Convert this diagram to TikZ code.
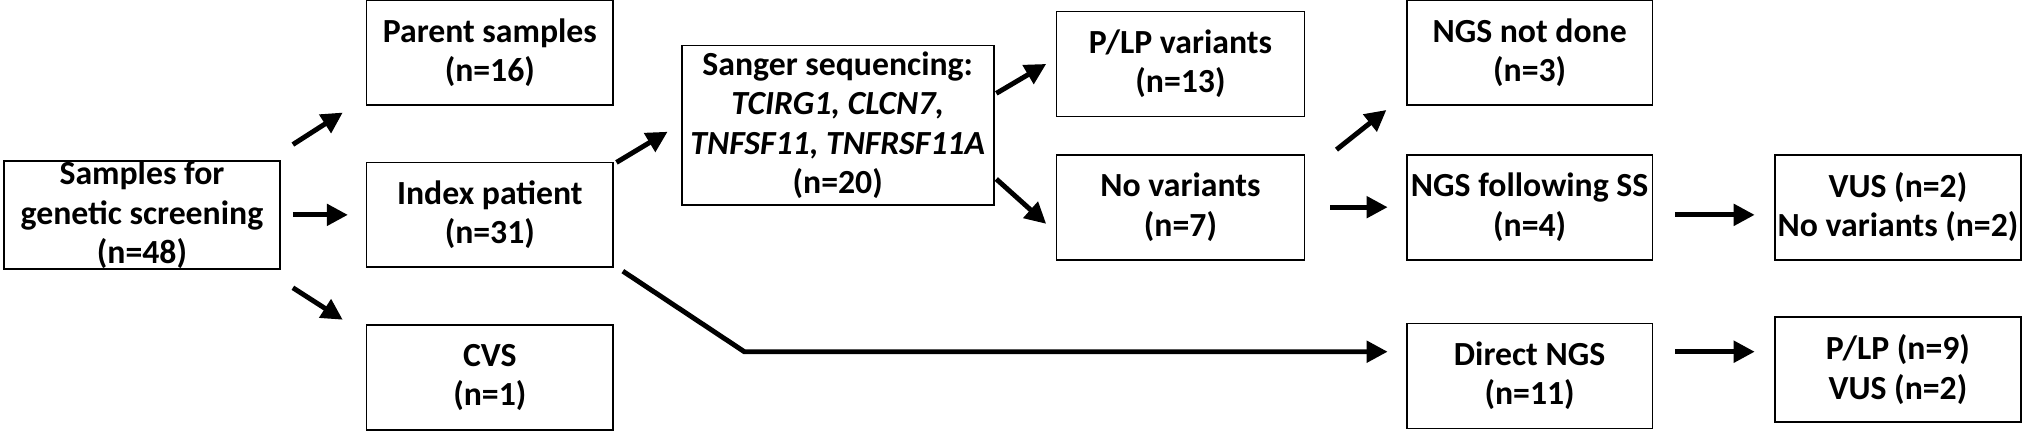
\documentclass[tikz,border=0pt]{standalone}
\usepackage{fontspec}
\setmainfont{Carlito}
\usetikzlibrary{arrows.meta}
\tikzset{box/.style={draw, line width=0.5pt, font=\bfseries\fontsize{9.6}{11.2}\selectfont, align=center, inner sep=0pt},
 arr/.style={-{Triangle[length=6pt,width=6pt]}, line width=1.4pt}}
\begin{document}
\begin{tikzpicture}[x=0.01279cm,y=-0.01279cm]
\useasboundingbox (0,0) rectangle (1581,342);
% boxes
\node[box, minimum width=216*0.01279cm, minimum height=82*0.01279cm] (samp) at (111,168) {Samples for\\genetic screening\\(n=48)};
\node[box, minimum width=193*0.01279cm, minimum height=82*0.01279cm] (par) at (383,41) {Parent samples\\(n=16)};
\node[box, minimum width=193*0.01279cm, minimum height=82*0.01279cm] (idx) at (383,168) {Index patient\\(n=31)};
\node[box, minimum width=193*0.01279cm, minimum height=82*0.01279cm] (cvs) at (383,295) {CVS\\(n=1)};
\node[box, minimum width=244*0.01279cm, minimum height=125*0.01279cm] (sang) at (655,98) {Sanger sequencing:\\\textit{TCIRG1, CLCN7,}\\\textit{TNFSF11, TNFRSF11A}\\(n=20)};
\node[box, minimum width=194*0.01279cm, minimum height=82*0.01279cm] (plp) at (923,50) {P/LP variants\\(n=13)};
\node[box, minimum width=194*0.01279cm, minimum height=82*0.01279cm] (novar) at (923,162) {No variants\\(n=7)};
\node[box, minimum width=192*0.01279cm, minimum height=82*0.01279cm] (notdone) at (1196,41) {NGS not done\\(n=3)};
\node[box, minimum width=192*0.01279cm, minimum height=82*0.01279cm] (follow) at (1196,162) {NGS following SS\\(n=4)};
\node[box, minimum width=192*0.01279cm, minimum height=82*0.01279cm] (direct) at (1196,294) {Direct NGS\\(n=11)};
\node[box, minimum width=192*0.01279cm, minimum height=82*0.01279cm] (vus) at (1484,162) {VUS (n=2)\\No variants (n=2)};
\node[box, minimum width=192*0.01279cm, minimum height=82*0.01279cm] (plpvus) at (1484,289) {P/LP (n=9)\\VUS (n=2)};
% arrow ends
\coordinate (a1) at (229,113); \coordinate (b1) at (268,88);
\coordinate (a2) at (229,168); \coordinate (b2) at (272,168);
\coordinate (a3) at (229,225); \coordinate (b3) at (268,250);
\coordinate (a4) at (482,127); \coordinate (b4) at (522,103);
\coordinate (a5) at (779,73);  \coordinate (b5) at (818,50);
\coordinate (a6) at (779,140); \coordinate (b6) at (818,175);
\coordinate (a7) at (1045,117); \coordinate (b7) at (1084,86);
\coordinate (a8) at (1040,162); \coordinate (b8) at (1085,162);
\coordinate (a9) at (1310,168); \coordinate (b9) at (1372,168);
\coordinate (a10) at (1310,275); \coordinate (b10) at (1372,275);
\coordinate (a11) at (487,212); \coordinate (bend) at (582,275); \coordinate (b11) at (1085,275);
\foreach \i in {1,...,10}
  \draw[arr] (a\i) -- (b\i);
\draw[arr] (a11) -- (bend) -- (b11);
\end{tikzpicture}
\end{document}
